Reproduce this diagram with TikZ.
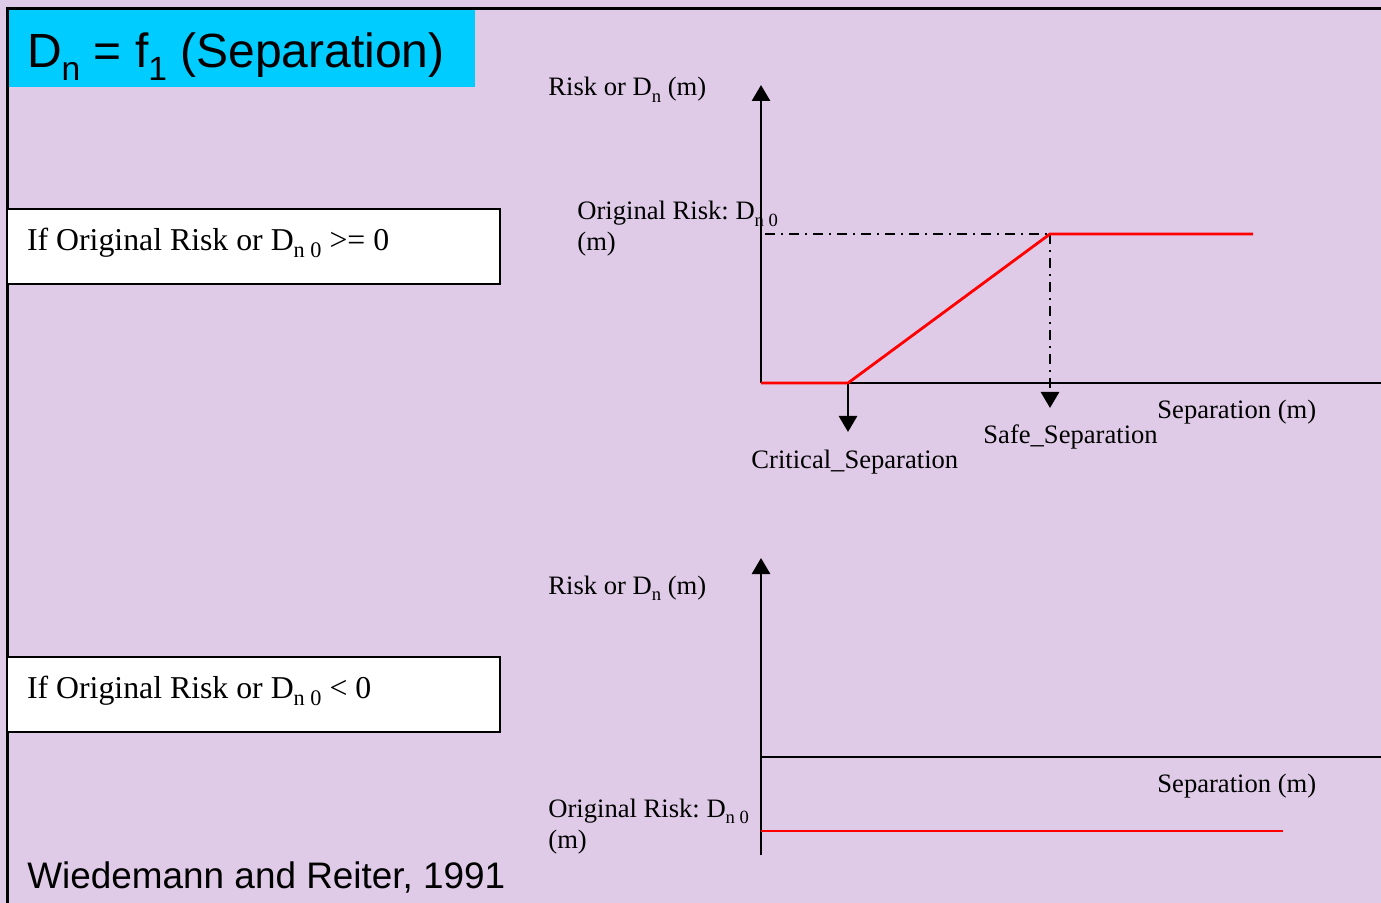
\documentclass[tikz,border=0pt]{standalone}
\usepackage{fontspec}
\setmainfont{Liberation Serif}
\setsansfont{Liberation Sans}
\usepackage{graphicx}
\usepackage{tikz}
\usetikzlibrary{positioning,arrows.meta}
\definecolor{lilac}{HTML}{DFCBE7}
\definecolor{sky}{HTML}{00CCFF}
\definecolor{riskred}{HTML}{FF0000}
\newcommand{\lowsub}[1]{\raisebox{-0.5ex}{\scalebox{0.7}{#1}}}
\tikzset{
  frame/.style={line width=1.5pt, line cap=rect},
  titlebar/.style={fill=sky, minimum width=234pt, minimum height=38.5pt,
    text width=214pt, inner xsep=10pt, align=flush left, text height=19.5pt, text depth=0pt,
    font=\sffamily\fontsize{24}{26}\selectfont},
  cond/.style={draw, fill=white, line width=1.4pt, minimum width=246.5pt, minimum height=37.5pt,
    text width=226.5pt, inner xsep=10pt, align=flush left, text height=11pt, text depth=7pt,
    font=\fontsize{15.9}{18}\selectfont},
  lbl/.style={anchor=base west, inner sep=0pt, align=flush left, font=\fontsize{13.3}{15.5}\selectfont},
  yaxis/.style={-{Triangle[length=8pt,width=9pt]}, line width=1.4pt},
  xaxis/.style={line width=1.4pt},
  riskline/.style={riskred, line width=1.4pt},
  guide/.style={line width=1.4pt, dash pattern=on 5pt off 3pt on 1pt off 3pt},
  drop/.style={-{Triangle[length=8pt,width=9pt]}, line width=1.4pt},
}

\begin{document}
\frenchspacing
\begin{tikzpicture}[x=0.5pt,y=-0.5pt]
  \fill[lilac] (0,0) rectangle (1381,903);
  \useasboundingbox (0,0) rectangle (1381,903);

  \node[titlebar] (title) at (241,48.5) {D\lowsub{n} = f\lowsub{1} (Separation)};
  \draw[frame] (7,903) -- (7,9) -- (1381,9);

  \node[cond] (pos) at (253.5,246.5) {If Original Risk or D\lowsub{n 0} >= 0};
  \node[cond] (neg) at (253.5,694.5) {If Original Risk or D\lowsub{n 0} < 0};
  \node[anchor=base west, inner sep=0pt, font=\sffamily\fontsize{18.45}{20}\selectfont]
    (cite) at (27,888) {Wiedemann and Reiter, 1991};

  % upper chart
  \coordinate (o1) at (761,383);
  \coordinate (y1) at (761,85);
  \coordinate (x1) at (1381,383);
  \coordinate (crit) at (848,383);
  \coordinate (safe) at (1050,234);
  \coordinate (r1) at (765,234);
  \coordinate (end1) at (1253,234);
  \coordinate (critend) at (848,432);
  \coordinate (safeend) at (1050,408);
  \draw[yaxis] (o1) -- (y1);
  \draw[xaxis] (o1) -- (x1);
  \draw[guide] (r1) -- (safe);
  \draw[guide] (safe) -- (1050,395);
  \draw[drop] (1050,393) -- (safeend);
  \draw[drop] (crit) -- (critend);
  \draw[riskline] (o1) -- (crit) -- (safe) -- (end1);
  \node[lbl] (ylab1) at (548,96) {Risk or D\lowsub{n} (m)};
  \node[lbl] (r0lab1) at (577,251) {Original Risk: D\lowsub{n 0}\\(m)};
  \node[lbl] (xlab1) at (1157,419) {Separation (m)};
  \node[lbl] (safelab) at (983,444) {Safe\_Separation};
  \node[lbl] (critlab) at (751,468) {Critical\_Separation};

  % lower chart
  \coordinate (o2) at (761,855);
  \coordinate (y2) at (761,558);
  \coordinate (a2) at (761,757);
  \coordinate (x2) at (1381,757);
  \coordinate (r2) at (761,831);
  \coordinate (end2) at (1283,831);
  \draw[yaxis] (o2) -- (y2);
  \draw[xaxis] (a2) -- (x2);
  \draw[riskline] (r2) -- (end2);
  \node[lbl] (ylab2) at (548,594) {Risk or D\lowsub{n} (m)};
  \node[lbl] (xlab2) at (1157,792) {Separation (m)};
  \node[lbl] (r0lab2) at (548,848) {Original Risk: D\lowsub{n 0}\\(m)};
\end{tikzpicture}
\end{document}
